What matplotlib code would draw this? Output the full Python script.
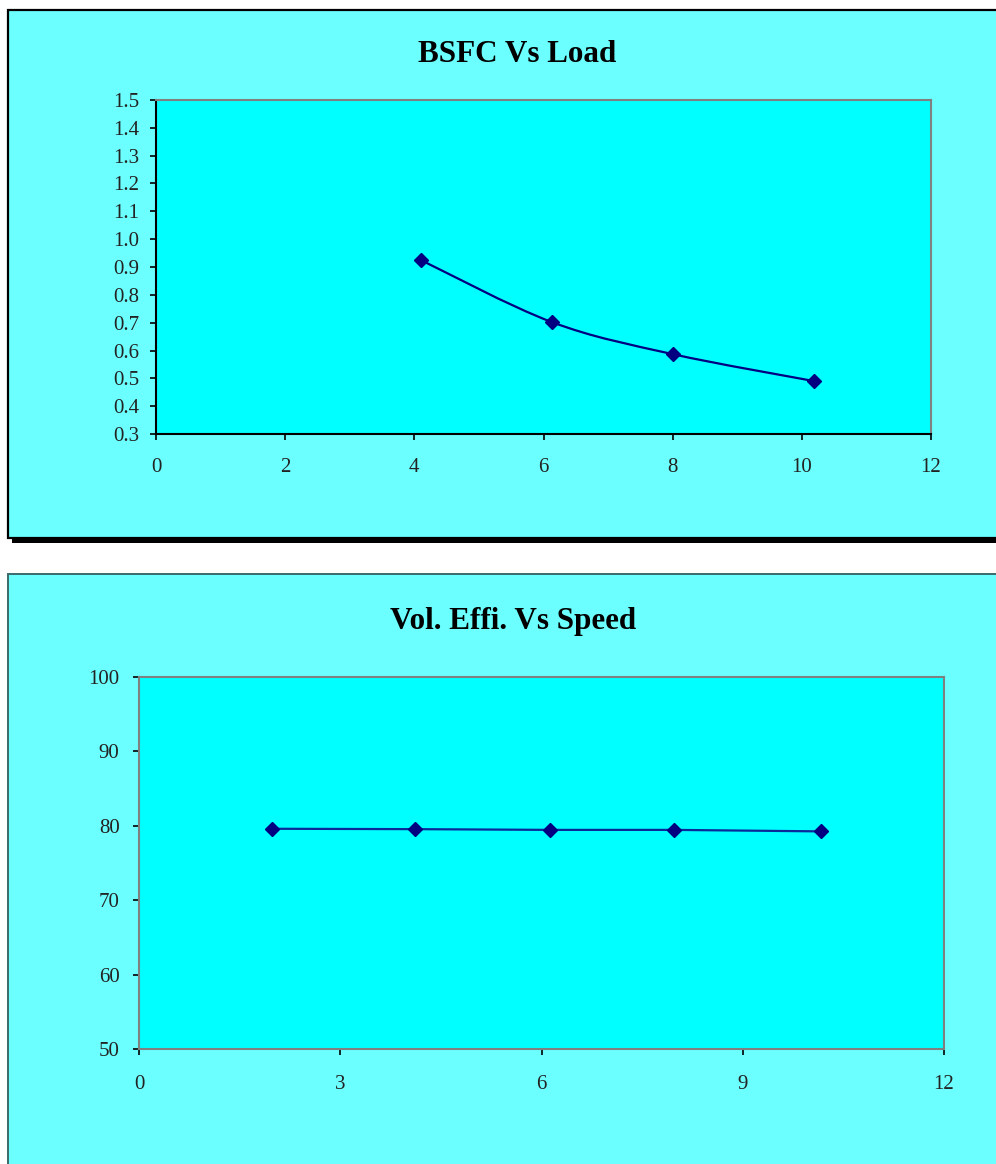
import matplotlib.pyplot as plt
from matplotlib.patches import Rectangle, PathPatch
from matplotlib.path import Path
import numpy as np

plt.rcParams['font.family'] = ['Liberation Serif', 'DejaVu Serif']

# BSFC against load
load = [4.1, 6.13, 8.0, 10.19]
bsfc = [0.925, 0.702, 0.587, 0.49]

# volumetric efficiency against speed
speed = [1.98, 4.11, 6.13, 7.98, 10.17]
vol_eff = [79.6, 79.55, 79.45, 79.45, 79.25]

panel_bg = '#6cffff'
plot_bg = '#00ffff'
navy = '#000080'

W, H = 996, 1164
fig = plt.figure(figsize=(W / 100, H / 100), dpi=100)
fig.patch.set_facecolor('white')


def px_rect(x0, y0, x1, y1, **kw):
    # rectangle given in pixel coords measured from the top-left
    return Rectangle((x0 / W, 1 - y1 / H), (x1 - x0) / W, (y1 - y0) / H,
                     transform=fig.transFigure, **kw)


# chart panels, the first with a drop shadow
fig.patches.append(px_rect(12, 14, 1000, 543, facecolor='black', edgecolor='none', zorder=0))
fig.patches.append(px_rect(8, 10, 1000, 538, facecolor=panel_bg, edgecolor='black', linewidth=1.6, zorder=1))
fig.patches.append(px_rect(8, 574, 1000, 1170, facecolor=panel_bg, edgecolor='#3a6a6a', linewidth=1.4, zorder=1))


def smooth_path(xs, ys):
    # cubic bezier through every point, catmull-rom style tangents
    pts = np.column_stack([xs, ys])
    ext = np.vstack([pts[0], pts, pts[-1]])
    verts = [pts[0]]
    codes = [Path.MOVETO]
    for i in range(len(pts) - 1):
        p0, p1, p2, p3 = ext[i], ext[i + 1], ext[i + 2], ext[i + 3]
        verts += [p1 + (p2 - p0) / 6, p2 - (p3 - p1) / 6, p2]
        codes += [Path.CURVE4] * 3
    return Path(verts, codes)


def style_axes(ax, dark_spines):
    ax.set_facecolor(plot_bg)
    for side in ['top', 'right', 'left', 'bottom']:
        ax.spines[side].set_color('#808080')
        ax.spines[side].set_linewidth(1.5)
    for side in dark_spines:
        ax.spines[side].set_color('black')
    ax.tick_params(direction='out', length=4, width=1.2, color='black',
                   labelsize=15, labelcolor='#222222')


# --- BSFC Vs Load ---
ax1 = fig.add_axes([156 / W, 1 - 434 / H, 775 / W, 334 / H])
style_axes(ax1, ['left', 'bottom'])
ax1.set_zorder(3)
ax1.set_xlim(0, 12)
ax1.set_ylim(0.3, 1.5)
ax1.set_xticks(range(0, 13, 2))
ax1.set_yticks(np.arange(3, 16) / 10)
ax1.set_yticklabels([f'{v / 10:.1f}' for v in range(3, 16)])
ax1.tick_params(axis='y', pad=8)
ax1.tick_params(axis='x', pad=13.5)
ax1.add_patch(PathPatch(smooth_path(load, bsfc), facecolor='none', edgecolor=navy, linewidth=1.6))
ax1.plot(load, bsfc, linestyle='none', marker='D', markersize=7, color=navy)
fig.text(517 / W, 1 - 55 / H, 'BSFC Vs Load', ha='center', va='center',
         fontsize=22.4, fontweight='bold', zorder=5)

# --- Vol. Effi. Vs Speed ---
ax2 = fig.add_axes([139 / W, 1 - 1049 / H, 805 / W, 372 / H])
style_axes(ax2, [])
ax2.set_zorder(3)
ax2.set_xlim(0, 12)
ax2.set_ylim(50, 100)
ax2.set_xticks(range(0, 13, 3))
ax2.set_yticks(range(50, 101, 10))
ax2.tick_params(axis='y', pad=10)
ax2.tick_params(axis='x', pad=15)
ax2.plot(speed, vol_eff, color='#0a2a9a', linewidth=1.6, marker='D', markersize=7,
         markerfacecolor=navy, markeredgecolor=navy)
fig.text(513 / W, 1 - 622 / H, 'Vol. Effi. Vs Speed', ha='center', va='center',
         fontsize=22.4, fontweight='bold', zorder=5)

fig.savefig('out.png', dpi=100, facecolor=fig.get_facecolor())
